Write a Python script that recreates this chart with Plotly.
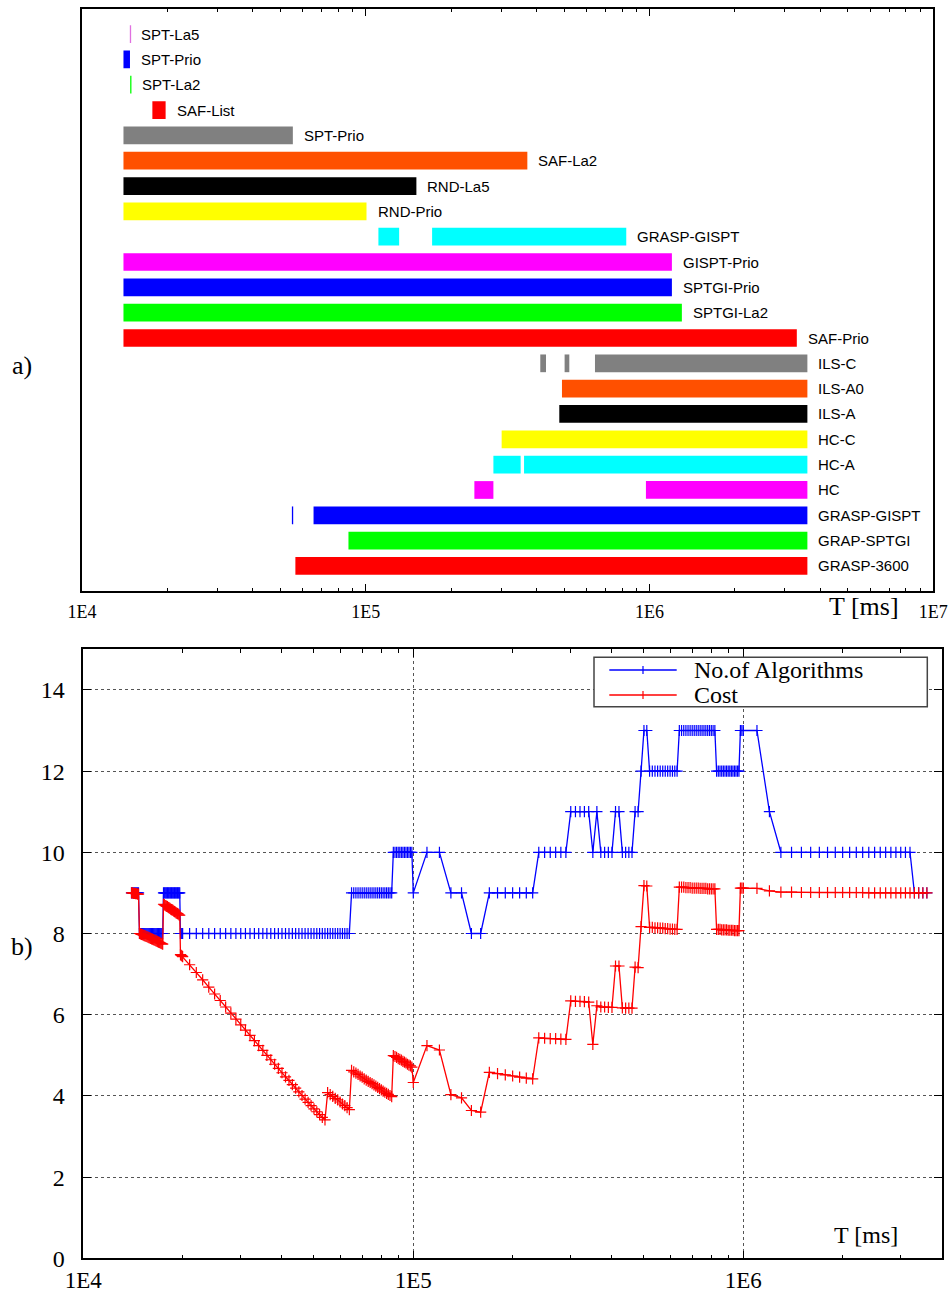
import numpy as np
import plotly.graph_objects as go

# ---------------- panel a) : run intervals of every algorithm ----------------
row_labels = ["SPT-La5", "SPT-Prio", "SPT-La2", "SAF-List", "SPT-Prio", "SAF-La2", "RND-La5",
              "RND-Prio", "GRASP-GISPT", "GISPT-Prio", "SPTGI-Prio", "SPTGI-La2", "SAF-Prio",
              "ILS-C", "ILS-A0", "ILS-A", "HC-C", "HC-A", "HC", "GRASP-GISPT", "GRAP-SPTGI",
              "GRASP-3600"]

# interval segments (row index, start [ms], end [ms])
seg_row = [1, 3, 4, 5, 6, 7, 8, 8, 9, 10, 11, 12, 13, 13, 13, 14, 15, 16, 17, 17, 18, 18, 19, 20, 21]
seg_start = [14000, 17700, 14000, 14000, 14000, 14000, 110800, 171300, 14000, 14000, 14000, 14000,
             412100, 502000, 642300, 491400, 480800, 301200, 281700, 361200, 241400, 971200,
             65460, 86900, 56490]
seg_end = [14760, 19710, 55340, 371000, 150800, 100600, 131100, 827900, 1199000, 1199000, 1300000,
           3304000, 431600, 521600, 3600000, 3600000, 3600000, 3600000, 351400, 3600000, 281700,
           3600000, 3600000, 3600000, 3600000]

# very short runs drawn as single strokes (row index, time [ms])
thin_row = [0, 2, 19]
thin_time = [14820, 14860, 55200]

row_colors = ["#e070e0", "#0000ff", "#00ff00", "#ff0000", "#808080", "#ff5000", "#000000",
              "#ffff00", "#00ffff", "#ff00ff", "#0000ff", "#00ff00", "#ff0000", "#808080",
              "#ff5000", "#000000", "#ffff00", "#00ffff", "#ff00ff", "#0000ff", "#00ff00",
              "#ff0000"]

# ---------------- panel b) : number of algorithms and cost over time ----------------
t_ms = [
    14000, 14100, 14200, 14300, 14400, 14500, 14600, 14700, 14800, 14900,
    15000, 15100, 15200, 15300, 15400, 15500, 15600, 15700, 15800, 15900,
    16000, 16100, 16200, 16300, 16400, 16500, 16600, 16700, 16800, 16900,
    17000, 17100, 17200, 17300, 17400, 17500, 17600, 17700, 17800, 17900,
    18000, 18100, 18200, 18300, 18400, 18500, 18600, 18700, 18800, 18900,
    19000, 19100, 19200, 19300, 19400, 19500, 19600, 19700, 19800, 19900,
    20000, 21000, 22000, 23000, 24000, 25000, 26000, 27000, 28000, 29000,
    30000, 31000, 32000, 33000, 34000, 35000, 36000, 37000, 38000, 39000,
    40000, 41000, 42000, 43000, 44000, 45000, 46000, 47000, 48000, 49000,
    50000, 51000, 52000, 53000, 54000, 55000, 56000, 57000, 58000, 59000,
    60000, 61000, 62000, 63000, 64000, 65000, 66000, 67000, 68000, 69000,
    70000, 71000, 72000, 73000, 74000, 75000, 76000, 77000, 78000, 79000,
    80000, 81000, 82000, 83000, 84000, 85000, 86000, 87000, 88000, 89000,
    90000, 91000, 92000, 93000, 94000, 95000, 96000, 97000, 98000, 99000,
    100000,
    110000, 120000, 130000, 140000, 150000, 160000, 170000, 180000, 190000,
    200000, 210000, 220000, 230000, 240000, 250000, 260000, 270000, 280000, 290000,
    300000, 310000, 320000, 330000, 340000, 350000, 360000, 370000, 380000, 390000,
    400000, 410000, 420000, 430000, 440000, 450000, 460000, 470000, 480000, 490000,
    500000, 510000, 520000, 530000, 540000, 550000, 560000, 570000, 580000, 590000,
    600000, 610000, 620000, 630000, 640000, 650000, 660000, 670000, 680000, 690000,
    700000, 710000, 720000, 730000, 740000, 750000, 760000, 770000, 780000, 790000,
    800000, 810000, 820000, 830000, 840000, 850000, 860000, 870000, 880000, 890000,
    900000, 910000, 920000, 930000, 940000, 950000, 960000, 970000, 980000, 990000,
    1000000,
    1100000, 1200000, 1300000, 1400000, 1500000, 1600000, 1700000, 1800000, 1900000,
    2000000, 2100000, 2200000, 2300000, 2400000, 2500000, 2600000, 2700000, 2800000, 2900000,
    3000000, 3100000, 3200000, 3300000, 3400000, 3500000, 3600000,
]

n_algorithms = [
    9, 9, 9, 9, 9, 9, 9, 9, 8, 8,
    8, 8, 8, 8, 8, 8, 8, 8, 8, 8,
    8, 8, 8, 8, 8, 8, 8, 8, 8, 8,
    8, 8, 8, 8, 8, 9, 9, 9, 9, 9,
    9, 9, 9, 9, 9, 9, 9, 9, 9, 9,
    9, 9, 9, 9, 9, 9, 9, 8, 8, 8,
    8, 8, 8, 8, 8, 8, 8, 8, 8, 8,
    8, 8, 8, 8, 8, 8, 8, 8, 8, 8,
    8, 8, 8, 8, 8, 8, 8, 8, 8, 8,
    8, 8, 8, 8, 8, 8, 8, 8, 8, 8,
    8, 8, 8, 8, 8, 9, 9, 9, 9, 9,
    9, 9, 9, 9, 9, 9, 9, 9, 9, 9,
    9, 9, 9, 9, 9, 9, 9, 10, 10, 10,
    10, 10, 10, 10, 10, 10, 10, 10, 10, 10,
    9,
    10, 10, 9, 9, 8, 8, 9, 9, 9,
    9, 9, 9, 9, 10, 10, 10, 10, 10, 10,
    11, 11, 11, 11, 11, 10, 11, 10, 10, 10,
    10, 11, 11, 10, 10, 10, 10, 11, 11, 12,
    13, 13, 12, 12, 12, 12, 12, 12, 12, 12,
    12, 12, 12, 12, 13, 13, 13, 13, 13, 13,
    13, 13, 13, 13, 13, 13, 13, 13, 13, 13,
    13, 13, 13, 12, 12, 12, 12, 12, 12, 12,
    12, 12, 12, 12, 12, 12, 12, 12, 13, 13,
    13,
    13, 11, 10, 10, 10, 10, 10, 10, 10,
    10, 10, 10, 10, 10, 10, 10, 10, 10, 10,
    10, 10, 10, 9, 9, 9, 9,
]

cost = [
    9.00, 9.00, 8.99, 8.99, 8.98, 8.98, 8.97, 8.97, 8.00, 7.99,
    7.98, 7.97, 7.96, 7.95, 7.94, 7.93, 7.92, 7.91, 7.90, 7.89,
    7.88, 7.87, 7.86, 7.85, 7.84, 7.83, 7.82, 7.81, 7.80, 7.79,
    7.78, 7.77, 7.76, 7.75, 7.74, 8.72, 8.71, 8.69, 8.68, 8.67,
    8.66, 8.64, 8.63, 8.62, 8.60, 8.59, 8.58, 8.57, 8.55, 8.54,
    8.53, 8.51, 8.50, 8.49, 8.48, 8.46, 8.45, 7.48, 7.46, 7.45,
    7.43, 7.23, 7.04, 6.86, 6.68, 6.51, 6.35, 6.19, 6.04, 5.89,
    5.75, 5.62, 5.49, 5.36, 5.24, 5.12, 5.00, 4.89, 4.78, 4.68,
    4.57, 4.47, 4.38, 4.28, 4.19, 4.10, 4.01, 3.92, 3.84, 3.76,
    3.68, 3.61, 3.54, 3.47, 3.41, 4.08, 4.03, 3.99, 3.94, 3.90,
    3.85, 3.80, 3.76, 3.71, 3.66, 4.63, 4.59, 4.56, 4.53, 4.49,
    4.46, 4.42, 4.39, 4.36, 4.33, 4.30, 4.27, 4.24, 4.21, 4.18,
    4.15, 4.12, 4.09, 4.06, 4.04, 4.01, 3.98, 4.99, 4.97, 4.95,
    4.92, 4.90, 4.88, 4.85, 4.83, 4.81, 4.78, 4.76, 4.74, 4.71,
    4.33,
    5.24, 5.13, 4.03, 3.95, 3.64, 3.60, 4.58, 4.55, 4.52,
    4.49, 4.46, 4.44, 4.42, 5.43, 5.42, 5.41, 5.41, 5.40, 5.39,
    6.34, 6.33, 6.33, 6.32, 6.31, 5.27, 6.22, 6.19, 6.19, 6.18,
    6.18, 7.20, 7.20, 6.17, 6.16, 6.16, 6.16, 7.17, 7.16, 8.17,
    9.18, 9.17, 8.15, 8.15, 8.14, 8.14, 8.13, 8.13, 8.12, 8.12,
    8.11, 8.11, 8.10, 8.10, 9.14, 9.14, 9.14, 9.13, 9.13, 9.13,
    9.12, 9.12, 9.12, 9.12, 9.11, 9.11, 9.11, 9.11, 9.10, 9.10,
    9.10, 9.10, 9.10, 8.10, 8.10, 8.10, 8.09, 8.09, 8.09, 8.09,
    8.08, 8.08, 8.08, 8.08, 8.07, 8.07, 8.07, 8.07, 9.12, 9.12,
    9.12,
    9.11, 9.05, 9.02, 9.02, 9.01, 9.01, 9.01, 9.01, 9.01,
    9.01, 9.01, 9.01, 9.01, 9.00, 9.00, 9.00, 9.00, 9.00, 9.00,
    9.00, 9.00, 9.00, 9.00, 9.00, 9.00, 9.00,
]

legend_names = ["No.of Algorithms", "Cost"]
x_tick_text_a = ["1E4", "1E5", "1E6", "1E7"]
x_tick_text_b = ["1E4", "1E5", "1E6"]

# ---------------- figure ----------------
W, H = 949, 1297
SERIF = "Liberation Serif, Times New Roman, serif"
SANS = "Liberation Sans, Arial, sans-serif"


def px(x):
    return x / W


def py(y):
    return 1 - y / H


fig = go.Figure()

# panel a) bars
fig.add_trace(go.Bar(
    orientation="h", y=seg_row, base=seg_start,
    x=[e - s for s, e in zip(seg_start, seg_end)],
    width=0.7, marker=dict(color=[row_colors[r] for r in seg_row], line=dict(width=0)),
    xaxis="x", yaxis="y", showlegend=False, hoverinfo="skip"))

for r, t in zip(thin_row, thin_time):
    fig.add_trace(go.Scatter(
        x=[t, t], y=[r - 0.35, r + 0.35], mode="lines",
        line=dict(color=row_colors[r], width=1.3),
        xaxis="x", yaxis="y", showlegend=False, hoverinfo="skip"))

# labels to the right of each row's last run
annotations = []
for r, name in enumerate(row_labels):
    ends = [e for rr, e in zip(seg_row, seg_end) if rr == r] + \
           [t for rr, t in zip(thin_row, thin_time) if rr == r]
    annotations.append(dict(
        x=np.log10(max(ends)), y=r, xref="x", yref="y", text=name, showarrow=False,
        xanchor="left", yanchor="middle", xshift=9,
        font=dict(family=SANS, size=15, color="black")))

# panel b) lines
series_colors = ["#0000ff", "#ff0000"]
for name, vals, col in zip(legend_names, [n_algorithms, cost], series_colors):
    fig.add_trace(go.Scatter(
        x=t_ms, y=vals, mode="lines+markers", name=name,
        line=dict(color=col, width=1.3),
        marker=dict(symbol="cross-thin", size=8, line=dict(width=1.2, color=col), color=col),
        xaxis="x2", yaxis="y2", showlegend=False, hoverinfo="skip"))

minor_a = [m * 10 ** d for d in range(4, 7) for m in range(2, 10)]
minor_b = [m * 10 ** d for d in range(4, 7) for m in range(2, 10) if m * 10 ** d <= 4e6]

axis_common = dict(showline=True, linecolor="black", linewidth=1.5, zeroline=False,
                   automargin=False)

fig.update_layout(
    width=W, height=H,
    margin=dict(l=0, r=0, t=0, b=0, pad=0, autoexpand=False),
    paper_bgcolor="white", plot_bgcolor="white",
    barmode="overlay",
    showlegend=False,
    xaxis=dict(
        **axis_common, type="log", range=[4, 7], domain=[px(82), px(933.3)], anchor="y",
        mirror="ticks", ticks="inside", ticklen=8, tickwidth=1.2, tickcolor="black",
        tickvals=[1e4, 1e5, 1e6, 1e7], ticktext=x_tick_text_a,
        tickfont=dict(family=SERIF, size=18, color="black"), ticklabelstandoff=3,
        showgrid=False,
        minor=dict(ticks="inside", ticklen=4, tickwidth=1, tickcolor="black",
                   tickvals=minor_a, showgrid=False)),
    yaxis=dict(
        **axis_common, range=[22, -1], domain=[py(591.3), py(8.7)], anchor="x",
        mirror=True, ticks="", showticklabels=False, showgrid=False),
    xaxis2=dict(
        **axis_common, type="log", range=[4, 6.6012], domain=[px(83.3), px(941.7)], anchor="y2",
        mirror="ticks", ticks="inside", ticklen=8, tickwidth=1.2, tickcolor="black",
        tickvals=[1e4, 1e5, 1e6], ticktext=x_tick_text_b,
        tickfont=dict(family=SERIF, size=23, color="black"), ticklabelstandoff=0,
        showgrid=True, gridcolor="#555555", griddash="dot", gridwidth=1,
        minor=dict(ticks="inside", ticklen=4, tickwidth=1, tickcolor="black",
                   tickvals=minor_b, showgrid=False)),
    yaxis2=dict(
        **axis_common, range=[0, 15], domain=[py(1258.3), py(649.3)], anchor="x2",
        mirror="ticks", ticks="inside", ticklen=8, tickwidth=1.2, tickcolor="black",
        tickmode="linear", tick0=0, dtick=2,
        tickfont=dict(family=SERIF, size=24, color="black"), ticklabelstandoff=12,
        showgrid=True, gridcolor="#555555", griddash="dot", gridwidth=1),
)

# axis titles / panel letters
annotations += [
    dict(x=px(864), y=py(606), xref="paper", yref="paper", text="T [ms]", showarrow=False,
         xanchor="center", yanchor="middle", font=dict(family=SERIF, size=26, color="black")),
    dict(x=px(866), y=py(1235), xref="paper", yref="paper", text="T [ms]", showarrow=False,
         xanchor="center", yanchor="middle", font=dict(family=SERIF, size=24, color="black")),
    dict(x=px(22), y=py(365), xref="paper", yref="paper", text="a)", showarrow=False,
         xanchor="center", yanchor="middle", font=dict(family=SERIF, size=26, color="black")),
    dict(x=px(22), y=py(946), xref="paper", yref="paper", text="b)", showarrow=False,
         xanchor="center", yanchor="middle", font=dict(family=SERIF, size=26, color="black")),
]

# hand-drawn legend box (gnuplot style)
shapes = [dict(type="rect", xref="paper", yref="paper",
               x0=px(594), x1=px(927.3), y0=py(706.7), y1=py(657.3),
               line=dict(color="#444444", width=1.5), fillcolor="white", layer="above")]
for i, (name, col) in enumerate(zip(legend_names, series_colors)):
    yc = 670 + 25 * i
    shapes.append(dict(type="line", xref="paper", yref="paper", x0=px(609.3), x1=px(676.7),
                       y0=py(yc), y1=py(yc), line=dict(color=col, width=1.3), layer="above"))
    shapes.append(dict(type="line", xref="paper", yref="paper", x0=px(643), x1=px(643),
                       y0=py(yc - 4), y1=py(yc + 4), line=dict(color=col, width=1.2), layer="above"))
    annotations.append(dict(x=px(691.7), y=py(yc), xref="paper", yref="paper", text=name,
                            showarrow=False, xanchor="left", yanchor="middle",
                            font=dict(family=SERIF, size=24, color="black")))

fig.update_layout(annotations=annotations, shapes=shapes)

fig.write_html("out.html")
